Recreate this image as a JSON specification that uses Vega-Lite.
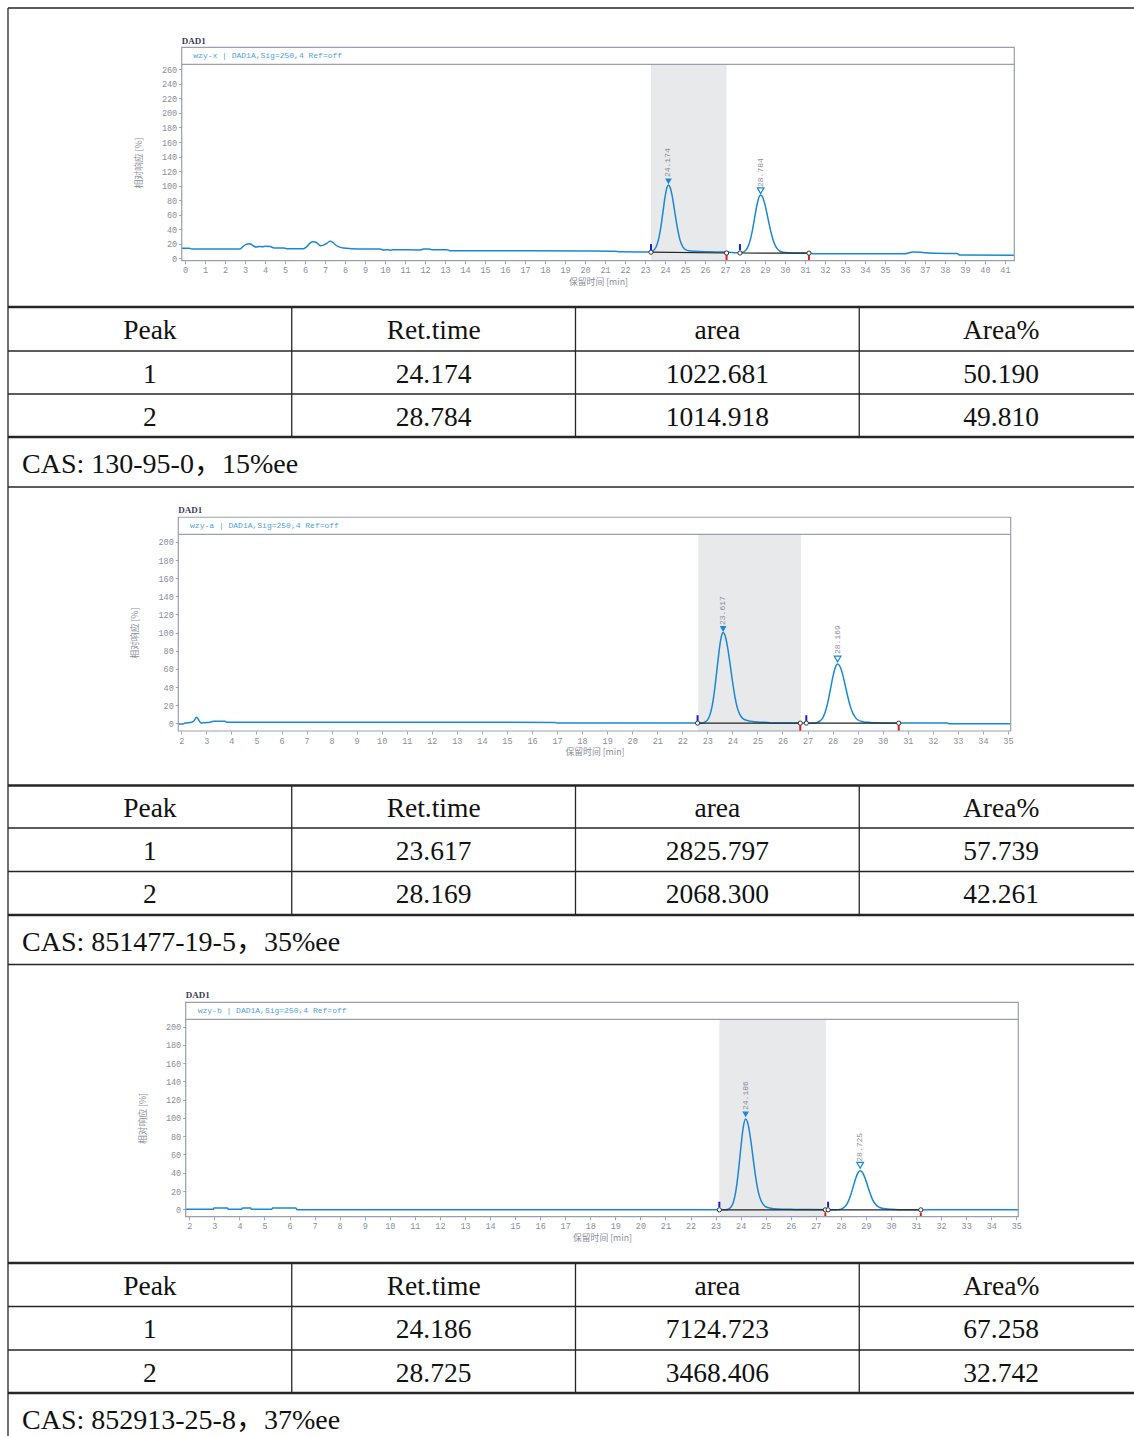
{
  "$schema": "https://vega.github.io/schema/vega-lite/v6.json",
  "width": 1134,
  "height": 1436,
  "autosize": {"type": "none"},
  "padding": 0,
  "background": "white",
  "config": {
    "view": {"stroke": null},
    "axis": {"grid": false, "domain": false, "labelFont": "Liberation Mono", "labelFontSize": 8.5, "labelColor": "#8a8d9c", "tickColor": "#a0a3b3", "tickSize": 3, "labelPadding": 2, "titleFont": "Noto Sans CJK SC", "titleFontSize": 8.8, "titleFontWeight": "normal", "titleColor": "#8a8d9c", "labelFlush": false, "labelOverlap": false, "labelBound": false}
  },
  "datasets": {
    "grid": [
      {"x":0,"x2":4,"y":0,"y2":0,"w":"thin"},
      {"x":0,"x2":4,"y":1,"y2":1,"w":"thick"},
      {"x":0,"x2":4,"y":2,"y2":2,"w":"thin"},
      {"x":0,"x2":4,"y":3,"y2":3,"w":"thin"},
      {"x":0,"x2":4,"y":4,"y2":4,"w":"thick"},
      {"x":0,"x2":4,"y":5,"y2":5,"w":"thin"},
      {"x":0,"x2":4,"y":6,"y2":6,"w":"thick"},
      {"x":0,"x2":4,"y":7,"y2":7,"w":"thin"},
      {"x":0,"x2":4,"y":8,"y2":8,"w":"thin"},
      {"x":0,"x2":4,"y":9,"y2":9,"w":"thick"},
      {"x":0,"x2":4,"y":10,"y2":10,"w":"thin"},
      {"x":0,"x2":4,"y":11,"y2":11,"w":"thick"},
      {"x":0,"x2":4,"y":12,"y2":12,"w":"thin"},
      {"x":0,"x2":4,"y":13,"y2":13,"w":"thin"},
      {"x":0,"x2":4,"y":14,"y2":14,"w":"thick"},
      {"x":0,"x2":0,"y":0,"y2":15,"w":"thin"},
      {"x":1,"x2":1,"y":1,"y2":4,"w":"thin"},
      {"x":2,"x2":2,"y":1,"y2":4,"w":"thin"},
      {"x":3,"x2":3,"y":1,"y2":4,"w":"thin"},
      {"x":1,"x2":1,"y":6,"y2":9,"w":"thin"},
      {"x":2,"x2":2,"y":6,"y2":9,"w":"thin"},
      {"x":3,"x2":3,"y":6,"y2":9,"w":"thin"},
      {"x":1,"x2":1,"y":11,"y2":14,"w":"thin"},
      {"x":2,"x2":2,"y":11,"y2":14,"w":"thin"},
      {"x":3,"x2":3,"y":11,"y2":14,"w":"thin"}
    ],
    "cells": [
      {"x":0.5,"y":1.5,"txt":"Peak"},{"x":1.5,"y":1.5,"txt":"Ret.time"},{"x":2.5,"y":1.5,"txt":"area"},{"x":3.5,"y":1.5,"txt":"Area%"},
      {"x":0.5,"y":2.5,"txt":"1"},{"x":1.5,"y":2.5,"txt":"24.174"},{"x":2.5,"y":2.5,"txt":"1022.681"},{"x":3.5,"y":2.5,"txt":"50.190"},
      {"x":0.5,"y":3.5,"txt":"2"},{"x":1.5,"y":3.5,"txt":"28.784"},{"x":2.5,"y":3.5,"txt":"1014.918"},{"x":3.5,"y":3.5,"txt":"49.810"},
      {"x":0.5,"y":6.5,"txt":"Peak"},{"x":1.5,"y":6.5,"txt":"Ret.time"},{"x":2.5,"y":6.5,"txt":"area"},{"x":3.5,"y":6.5,"txt":"Area%"},
      {"x":0.5,"y":7.5,"txt":"1"},{"x":1.5,"y":7.5,"txt":"23.617"},{"x":2.5,"y":7.5,"txt":"2825.797"},{"x":3.5,"y":7.5,"txt":"57.739"},
      {"x":0.5,"y":8.5,"txt":"2"},{"x":1.5,"y":8.5,"txt":"28.169"},{"x":2.5,"y":8.5,"txt":"2068.300"},{"x":3.5,"y":8.5,"txt":"42.261"},
      {"x":0.5,"y":11.5,"txt":"Peak"},{"x":1.5,"y":11.5,"txt":"Ret.time"},{"x":2.5,"y":11.5,"txt":"area"},{"x":3.5,"y":11.5,"txt":"Area%"},
      {"x":0.5,"y":12.5,"txt":"1"},{"x":1.5,"y":12.5,"txt":"24.186"},{"x":2.5,"y":12.5,"txt":"7124.723"},{"x":3.5,"y":12.5,"txt":"67.258"},
      {"x":0.5,"y":13.5,"txt":"2"},{"x":1.5,"y":13.5,"txt":"28.725"},{"x":2.5,"y":13.5,"txt":"3468.406"},{"x":3.5,"y":13.5,"txt":"32.742"}
    ],
    "cas": [
      {"x":0,"y":4.5,"txt":"CAS: 130-95-0，15%ee"},
      {"x":0,"y":9.5,"txt":"CAS: 851477-19-5，35%ee"},
      {"x":0,"y":14.5,"txt":"CAS: 852913-25-8，37%ee"}
    ],
    "c1": [
      {"t":-0.17,"v":13.8},{"t":0.2,"v":13.8},{"t":0.35,"v":12.8},{"t":2.75,"v":12.8},{"t":2.92,"v":16.9},{"t":3.05,"v":19.2},{"t":3.2,"v":20.1},{"t":3.32,"v":19},{"t":3.42,"v":16.9},{"t":3.55,"v":15.6},{"t":3.72,"v":16.4},{"t":3.88,"v":15.8},{"t":4.0,"v":16.5},{"t":4.25,"v":16.2},{"t":4.45,"v":14.2},{"t":4.92,"v":14.2},{"t":5.08,"v":13.3},{"t":5.92,"v":13.3},{"t":6.08,"v":16},{"t":6.25,"v":21},{"t":6.38,"v":22.9},{"t":6.5,"v":22.5},{"t":6.62,"v":20.5},{"t":6.78,"v":17.2},{"t":6.9,"v":17.8},{"t":7.05,"v":20},{"t":7.25,"v":23.4},{"t":7.38,"v":22},{"t":7.5,"v":19},{"t":7.67,"v":16},{"t":7.92,"v":14.2},{"t":8.33,"v":13.3},{"t":8.92,"v":12.8},{"t":9.75,"v":12.8},{"t":9.92,"v":11.5},{"t":10.17,"v":11.9},{"t":10.25,"v":11},{"t":10.42,"v":11.9},{"t":11.75,"v":11.5},{"t":11.92,"v":12.8},{"t":12.17,"v":12.8},{"t":12.33,"v":11.9},{"t":13.08,"v":11.9},{"t":13.25,"v":10.5},{"t":17.25,"v":10.5},{"t":20,"v":10.2},{"t":21.5,"v":9.8},{"t":21.75,"v":9.0},{"t":23.3,"v":8.8},{"t":23.4,"v":10.5},{"t":23.5,"v":13},{"t":23.6,"v":18.6},{"t":23.7,"v":28.7},{"t":23.8,"v":44.2},{"t":23.9,"v":63.9},{"t":24.0,"v":83.7},{"t":24.1,"v":97.6},{"t":24.174,"v":101},{"t":24.25,"v":98.2},{"t":24.35,"v":87.3},{"t":24.45,"v":70.9},{"t":24.55,"v":53.1},{"t":24.65,"v":37.3},{"t":24.75,"v":25.4},{"t":24.9,"v":15.5},{"t":25.05,"v":11.5},{"t":25.2,"v":10.3},{"t":25.5,"v":9.6},{"t":26.0,"v":9.0},{"t":26.5,"v":8.8},{"t":27.0,"v":8.5},{"t":27.5,"v":7.8},{"t":27.9,"v":8.5},{"t":28.0,"v":10.1},{"t":28.1,"v":13.4},{"t":28.2,"v":19.4},{"t":28.3,"v":29.1},{"t":28.4,"v":42.6},{"t":28.5,"v":58.3},{"t":28.6,"v":73.3},{"t":28.7,"v":84},{"t":28.784,"v":87},{"t":28.9,"v":82.9},{"t":29.0,"v":73.9},{"t":29.1,"v":61.6},{"t":29.2,"v":48.3},{"t":29.3,"v":36},{"t":29.4,"v":25.9},{"t":29.5,"v":18.5},{"t":29.6,"v":13.6},{"t":29.75,"v":9.7},{"t":29.9,"v":8.2},{"t":30.2,"v":7.5},{"t":30.5,"v":7.3},{"t":31.2,"v":7.1},{"t":31.5,"v":6.3},{"t":36.0,"v":6.3},{"t":36.2,"v":7.5},{"t":36.4,"v":8.5},{"t":36.8,"v":8.3},{"t":37.0,"v":7.5},{"t":37.5,"v":6.8},{"t":38.6,"v":6.5},{"t":38.75,"v":4.5},{"t":41.47,"v":4.3}
    ],
    "c2": [
      {"t":1.88,"v":-0.8},{"t":2.08,"v":-0.8},{"t":2.15,"v":0.3},{"t":2.41,"v":1.1},{"t":2.51,"v":2.9},{"t":2.61,"v":6.6},{"t":2.71,"v":2.9},{"t":2.79,"v":0.3},{"t":2.95,"v":0.7},{"t":3.15,"v":1.1},{"t":3.28,"v":2.2},{"t":3.74,"v":2.2},{"t":3.84,"v":1.1},{"t":16.9,"v":1.0},{"t":17.0,"v":0.4},{"t":22.8,"v":0.3},{"t":22.9,"v":1.3},{"t":23.0,"v":3.5},{"t":23.1,"v":9.0},{"t":23.2,"v":20.3},{"t":23.3,"v":39.1},{"t":23.4,"v":63.3},{"t":23.5,"v":86.3},{"t":23.57,"v":96.9},{"t":23.63,"v":100},{"t":23.7,"v":97.3},{"t":23.8,"v":85.1},{"t":23.9,"v":66.8},{"t":24.0,"v":46.9},{"t":24.1,"v":29.5},{"t":24.2,"v":16.7},{"t":24.3,"v":9.5},{"t":24.45,"v":4.5},{"t":24.6,"v":3.0},{"t":24.8,"v":2.0},{"t":25.0,"v":1.4},{"t":25.4,"v":0.8},{"t":25.6,"v":0.4},{"t":27.3,"v":0.3},{"t":27.4,"v":1.1},{"t":27.5,"v":2.6},{"t":27.6,"v":5.8},{"t":27.7,"v":12},{"t":27.8,"v":22},{"t":27.9,"v":35.4},{"t":28.0,"v":49.8},{"t":28.1,"v":61.1},{"t":28.2,"v":65.4},{"t":28.3,"v":62.3},{"t":28.4,"v":53.9},{"t":28.5,"v":42.2},{"t":28.6,"v":30.1},{"t":28.7,"v":19.5},{"t":28.8,"v":11.5},{"t":28.9,"v":6.8},{"t":29.0,"v":3.9},{"t":29.2,"v":1.8},{"t":29.5,"v":0.9},{"t":29.8,"v":0.5},{"t":30.2,"v":0.3},{"t":32.6,"v":0.3},{"t":32.65,"v":-0.6},{"t":35.11,"v":-0.6}
    ],
    "c3": [
      {"t":1.856,"v":0},{"t":2.96,"v":0},{"t":2.98,"v":1.4},{"t":3.52,"v":1.4},{"t":3.55,"v":0},{"t":4.09,"v":0},{"t":4.12,"v":1.4},{"t":4.45,"v":1.4},{"t":4.48,"v":0},{"t":5.29,"v":0},{"t":5.32,"v":1.3},{"t":6.25,"v":1.3},{"t":6.3,"v":-0.4},{"t":23.4,"v":-0.4},{"t":23.5,"v":0.1},{"t":23.6,"v":1.9},{"t":23.7,"v":7.0},{"t":23.8,"v":18.5},{"t":23.9,"v":38.8},{"t":24.0,"v":65.2},{"t":24.1,"v":89.2},{"t":24.2,"v":98.9},{"t":24.3,"v":92.7},{"t":24.4,"v":76.5},{"t":24.5,"v":55.5},{"t":24.6,"v":35.3},{"t":24.7,"v":19.7},{"t":24.8,"v":10.5},{"t":24.9,"v":5.4},{"t":25.0,"v":2.8},{"t":25.2,"v":1.2},{"t":25.5,"v":0.4},{"t":26.0,"v":0},{"t":26.5,"v":-0.3},{"t":27.8,"v":-0.4},{"t":28.0,"v":0.2},{"t":28.1,"v":1.5},{"t":28.2,"v":4.1},{"t":28.3,"v":8.9},{"t":28.4,"v":16.2},{"t":28.5,"v":25.5},{"t":28.6,"v":34.6},{"t":28.7,"v":40.9},{"t":28.77,"v":42.3},{"t":28.85,"v":40.8},{"t":28.95,"v":35.2},{"t":29.05,"v":27.2},{"t":29.15,"v":18.7},{"t":29.25,"v":11.4},{"t":29.35,"v":6.6},{"t":29.5,"v":2.6},{"t":29.7,"v":0.8},{"t":30.0,"v":0},{"t":30.3,"v":-0.4},{"t":35.08,"v":-0.4}
    ]
  },
  "layer": [
    {
      "encoding": {
        "x": {"field":"x","type":"quantitative","scale":{"domain":[0,4],"range":[8,1143],"nice":false,"zero":false},"axis":null},
        "y": {"field":"y","type":"quantitative","scale":{"domain":[0,1,2,3,4,5,6,7,8,9,10,11,12,13,14,15],"range":[8,307,351,394,437,487,785.5,828,871.5,915,964.5,1263,1306.5,1350,1393,1443],"nice":false,"zero":false},"axis":null}
      },
      "layer": [
        {"data":{"name":"grid"},"mark":{"type":"rule","color":"#262626","clip":true},"encoding":{"x2":{"field":"x2"},"y2":{"field":"y2"},"strokeWidth":{"field":"w","type":"ordinal","scale":{"domain":["thin","thick"],"range":[1.3,2.4]},"legend":null}}},
        {"data":{"name":"cells"},"mark":{"type":"text","align":"center","baseline":"middle","dy":2,"font":"Liberation Serif","fontSize":27.5,"color":"#111111"},"encoding":{"text":{"field":"txt"}}},
        {"data":{"name":"cas"},"mark":{"type":"text","align":"left","baseline":"middle","dx":14,"dy":3,"font":"Liberation Serif, Noto Sans CJK SC","fontSize":28,"color":"#111111"},"encoding":{"text":{"field":"txt"}}}
      ]
    },
    {
      "encoding": {
        "x": {"field":"t","type":"quantitative","scale":{"domain":[-0.17,41.47],"range":[181.7,1014.3],"nice":false,"zero":false},"axis":{"orient":"bottom","offset":-1175.3,"values":[0,1,2,3,4,5,6,7,8,9,10,11,12,13,14,15,16,17,18,19,20,21,22,23,24,25,26,27,28,29,30,31,32,33,34,35,36,37,38,39,40,41],"title":"保留时间 [min]","titlePadding":3}},
        "y": {"field":"v","type":"quantitative","scale":{"domain":[-3.3,266.9],"range":[260.7,64.3],"nice":false,"zero":false},"axis":{"orient":"left","offset":-181.7,"values":[0,20,40,60,80,100,120,140,160,180,200,220,240,260],"title":"相对响应 [%]","titlePadding":18}}
      },
      "layer": [
        {"data":{"values":[{"t":23.3,"t2":27.08,"v":-3.3,"v2":266.9}]},"mark":{"type":"rect","color":"#e8e9eb"},"encoding":{"x2":{"field":"t2"},"y2":{"field":"v2"}}},
        {"data":{"name":"c1"},"mark":{"type":"line","color":"#1b87d7","strokeWidth":1.5,"interpolate":"monotone"},"encoding":{}},
        {"data":{"values":[{"t":23.3,"v":8.4,"t2":27.08,"v2":7.3},{"t":27.75,"v":7.3,"t2":31.2,"v2":7.1}]},"mark":{"type":"rule","color":"#222222","strokeWidth":1.2},"encoding":{"x2":{"field":"t2"},"y2":{"field":"v2"}}},
        {"data":{"values":[{"t":23.3,"v":11,"v2":19.6},{"t":27.75,"v":11,"v2":19.6}]},"mark":{"type":"rule","color":"#1a1ae6","strokeWidth":2},"encoding":{"y2":{"field":"v2"}}},
        {"data":{"values":[{"t":27.08,"v":-3.3,"v2":4.5},{"t":31.2,"v":-3.3,"v2":4.5}]},"mark":{"type":"rule","color":"#e61a1a","strokeWidth":2},"encoding":{"y2":{"field":"v2"}}},
        {"data":{"values":[{"t":23.3,"v":8.4},{"t":27.08,"v":7.3},{"t":27.75,"v":7.3},{"t":31.2,"v":7.1}]},"mark":{"type":"point","shape":"circle","size":18,"filled":true,"fill":"white","stroke":"#333333","strokeWidth":1,"opacity":1}},
        {"data":{"values":[{"t":24.174,"v":105.9}]},"mark":{"type":"point","shape":"triangle-down","size":45,"filled":true,"color":"#1b87d7","opacity":1}},
        {"data":{"values":[{"t":28.784,"v":93}]},"mark":{"type":"point","shape":"triangle-down","size":45,"filled":false,"color":"#1b87d7","strokeWidth":1.2,"opacity":1}},
        {"data":{"values":[{"t":24.174,"v":111.8,"lab":"24.174"},{"t":28.784,"v":98.1,"lab":"28.784"}]},"mark":{"type":"text","angle":270,"align":"left","baseline":"middle","font":"Liberation Mono","fontSize":8,"color":"#8a8d9c"},"encoding":{"text":{"field":"lab"}}},
        {"data":{"values":[{"t":-0.17,"t2":41.47,"v":-3.3,"v2":290.3}]},"mark":{"type":"rect","filled":false,"color":"#9b9eb1","strokeWidth":1.2},"encoding":{"x2":{"field":"t2"},"y2":{"field":"v2"}}},
        {"data":{"values":[{"t":-0.17,"t2":41.47,"v":266.9}]},"mark":{"type":"rule","color":"#9b9eb1","strokeWidth":1.2},"encoding":{"x2":{"field":"t2"}}},
        {"data":{"values":[{"t":0.41,"v":278.6,"lab":"wzy-x | DAD1A,Sig=250,4  Ref=off"}]},"mark":{"type":"text","align":"left","baseline":"middle","font":"Liberation Mono","fontSize":8,"color":"#4c9fe0"},"encoding":{"text":{"field":"lab"}}},
        {"data":{"values":[{"t":-0.17,"v":295.5,"lab":"DAD1"}]},"mark":{"type":"text","align":"left","baseline":"alphabetic","font":"Liberation Serif","fontSize":9,"fontWeight":"bold","color":"#3b4057"},"encoding":{"text":{"field":"lab"}}}
      ]
    },
    {
      "encoding": {
        "x": {"field":"t","type":"quantitative","scale":{"domain":[1.88,35.11],"range":[178.3,1010.7],"nice":false,"zero":false},"axis":{"orient":"bottom","offset":-705,"values":[2,3,4,5,6,7,8,9,10,11,12,13,14,15,16,17,18,19,20,21,22,23,24,25,26,27,28,29,30,31,32,33,34,35],"title":"保留时间 [min]","titlePadding":3}},
        "y": {"field":"v","type":"quantitative","scale":{"domain":[-8.5,208.4],"range":[731,534.3],"nice":false,"zero":false},"axis":{"orient":"left","offset":-178.3,"values":[0,20,40,60,80,100,120,140,160,180,200],"title":"相对响应 [%]","titlePadding":18}}
      },
      "layer": [
        {"data":{"values":[{"t":22.64,"t2":26.74,"v":-8.5,"v2":208.4}]},"mark":{"type":"rect","color":"#e8e9eb"},"encoding":{"x2":{"field":"t2"},"y2":{"field":"v2"}}},
        {"data":{"name":"c2"},"mark":{"type":"line","color":"#1b87d7","strokeWidth":1.5,"interpolate":"monotone"},"encoding":{}},
        {"data":{"values":[{"t":22.61,"v":0.2,"t2":26.71,"v2":0.2},{"t":26.95,"v":0.2,"t2":30.64,"v2":0.2}]},"mark":{"type":"rule","color":"#222222","strokeWidth":1.2},"encoding":{"x2":{"field":"t2"},"y2":{"field":"v2"}}},
        {"data":{"values":[{"t":22.61,"v":2.6,"v2":8.9},{"t":26.95,"v":2.6,"v2":8.9}]},"mark":{"type":"rule","color":"#1a1ae6","strokeWidth":2},"encoding":{"y2":{"field":"v2"}}},
        {"data":{"values":[{"t":26.71,"v":-8.5,"v2":-2},{"t":30.64,"v":-8.5,"v2":-2}]},"mark":{"type":"rule","color":"#e61a1a","strokeWidth":2},"encoding":{"y2":{"field":"v2"}}},
        {"data":{"values":[{"t":22.61,"v":0.2},{"t":26.71,"v":0.2},{"t":26.95,"v":0.2},{"t":30.64,"v":0.2}]},"mark":{"type":"point","shape":"circle","size":18,"filled":true,"fill":"white","stroke":"#333333","strokeWidth":1,"opacity":1}},
        {"data":{"values":[{"t":23.63,"v":104}]},"mark":{"type":"point","shape":"triangle-down","size":45,"filled":true,"color":"#1b87d7","opacity":1}},
        {"data":{"values":[{"t":28.2,"v":70.9}]},"mark":{"type":"point","shape":"triangle-down","size":45,"filled":false,"color":"#1b87d7","strokeWidth":1.2,"opacity":1}},
        {"data":{"values":[{"t":23.63,"v":108.4,"lab":"23.617"},{"t":28.2,"v":76.4,"lab":"28.169"}]},"mark":{"type":"text","angle":270,"align":"left","baseline":"middle","font":"Liberation Mono","fontSize":8,"color":"#8a8d9c"},"encoding":{"text":{"field":"lab"}}},
        {"data":{"values":[{"t":1.88,"t2":35.11,"v":-8.5,"v2":227.2}]},"mark":{"type":"rect","filled":false,"color":"#9b9eb1","strokeWidth":1.2},"encoding":{"x2":{"field":"t2"},"y2":{"field":"v2"}}},
        {"data":{"values":[{"t":1.88,"t2":35.11,"v":208.4}]},"mark":{"type":"rule","color":"#9b9eb1","strokeWidth":1.2},"encoding":{"x2":{"field":"t2"}}},
        {"data":{"values":[{"t":2.35,"v":217.8,"lab":"wzy-a | DAD1A,Sig=250,4  Ref=off"}]},"mark":{"type":"text","align":"left","baseline":"middle","font":"Liberation Mono","fontSize":8,"color":"#4c9fe0"},"encoding":{"text":{"field":"lab"}}},
        {"data":{"values":[{"t":1.88,"v":231.6,"lab":"DAD1"}]},"mark":{"type":"text","align":"left","baseline":"alphabetic","font":"Liberation Serif","fontSize":9,"fontWeight":"bold","color":"#3b4057"},"encoding":{"text":{"field":"lab"}}}
      ]
    },
    {
      "encoding": {
        "x": {"field":"t","type":"quantitative","scale":{"domain":[1.856,35.08],"range":[185.7,1018.3],"nice":false,"zero":false},"axis":{"orient":"bottom","offset":-219.3,"values":[2,3,4,5,6,7,8,9,10,11,12,13,14,15,16,17,18,19,20,21,22,23,24,25,26,27,28,29,30,31,32,33,34,35],"title":"保留时间 [min]","titlePadding":3}},
        "y": {"field":"v","type":"quantitative","scale":{"domain":[-8.1,208],"range":[1216.7,1019.3],"nice":false,"zero":false},"axis":{"orient":"left","offset":-185.7,"values":[0,20,40,60,80,100,120,140,160,180,200],"title":"相对响应 [%]","titlePadding":18}}
      },
      "layer": [
        {"data":{"values":[{"t":23.15,"t2":27.4,"v":-8.1,"v2":208}]},"mark":{"type":"rect","color":"#e8e9eb"},"encoding":{"x2":{"field":"t2"},"y2":{"field":"v2"}}},
        {"data":{"name":"c3"},"mark":{"type":"line","color":"#1b87d7","strokeWidth":1.5,"interpolate":"monotone"},"encoding":{}},
        {"data":{"values":[{"t":23.15,"v":-0.6,"t2":27.38,"v2":-0.6},{"t":27.49,"v":-0.6,"t2":31.19,"v2":-0.6}]},"mark":{"type":"rule","color":"#222222","strokeWidth":1.2},"encoding":{"x2":{"field":"t2"},"y2":{"field":"v2"}}},
        {"data":{"values":[{"t":23.15,"v":2.2,"v2":8.3},{"t":27.49,"v":2.2,"v2":8.3}]},"mark":{"type":"rule","color":"#1a1ae6","strokeWidth":2},"encoding":{"y2":{"field":"v2"}}},
        {"data":{"values":[{"t":27.38,"v":-8.1,"v2":-3.7},{"t":31.19,"v":-8.1,"v2":-3.7}]},"mark":{"type":"rule","color":"#e61a1a","strokeWidth":2},"encoding":{"y2":{"field":"v2"}}},
        {"data":{"values":[{"t":23.15,"v":-0.6},{"t":27.38,"v":-0.6},{"t":27.49,"v":-0.6},{"t":31.19,"v":-0.6}]},"mark":{"type":"point","shape":"circle","size":18,"filled":true,"fill":"white","stroke":"#333333","strokeWidth":1,"opacity":1}},
        {"data":{"values":[{"t":24.2,"v":104}]},"mark":{"type":"point","shape":"triangle-down","size":45,"filled":true,"color":"#1b87d7","opacity":1}},
        {"data":{"values":[{"t":28.77,"v":48.2}]},"mark":{"type":"point","shape":"triangle-down","size":45,"filled":false,"color":"#1b87d7","strokeWidth":1.2,"opacity":1}},
        {"data":{"values":[{"t":24.2,"v":108.7,"lab":"24.186"},{"t":28.77,"v":52.1,"lab":"28.725"}]},"mark":{"type":"text","angle":270,"align":"left","baseline":"middle","font":"Liberation Mono","fontSize":8,"color":"#8a8d9c"},"encoding":{"text":{"field":"lab"}}},
        {"data":{"values":[{"t":1.856,"t2":35.08,"v":-8.1,"v2":226.6}]},"mark":{"type":"rect","filled":false,"color":"#9b9eb1","strokeWidth":1.2},"encoding":{"x2":{"field":"t2"},"y2":{"field":"v2"}}},
        {"data":{"values":[{"t":1.856,"t2":35.08,"v":208}]},"mark":{"type":"rule","color":"#9b9eb1","strokeWidth":1.2},"encoding":{"x2":{"field":"t2"}}},
        {"data":{"values":[{"t":2.335,"v":217.3,"lab":"wzy-b | DAD1A,Sig=250,4  Ref=off"}]},"mark":{"type":"text","align":"left","baseline":"middle","font":"Liberation Mono","fontSize":8,"color":"#4c9fe0"},"encoding":{"text":{"field":"lab"}}},
        {"data":{"values":[{"t":1.856,"v":231.0,"lab":"DAD1"}]},"mark":{"type":"text","align":"left","baseline":"alphabetic","font":"Liberation Serif","fontSize":9,"fontWeight":"bold","color":"#3b4057"},"encoding":{"text":{"field":"lab"}}}
      ]
    }
  ],
  "resolve": {"scale": {"x": "independent", "y": "independent"}, "axis": {"x": "independent", "y": "independent"}}
}
